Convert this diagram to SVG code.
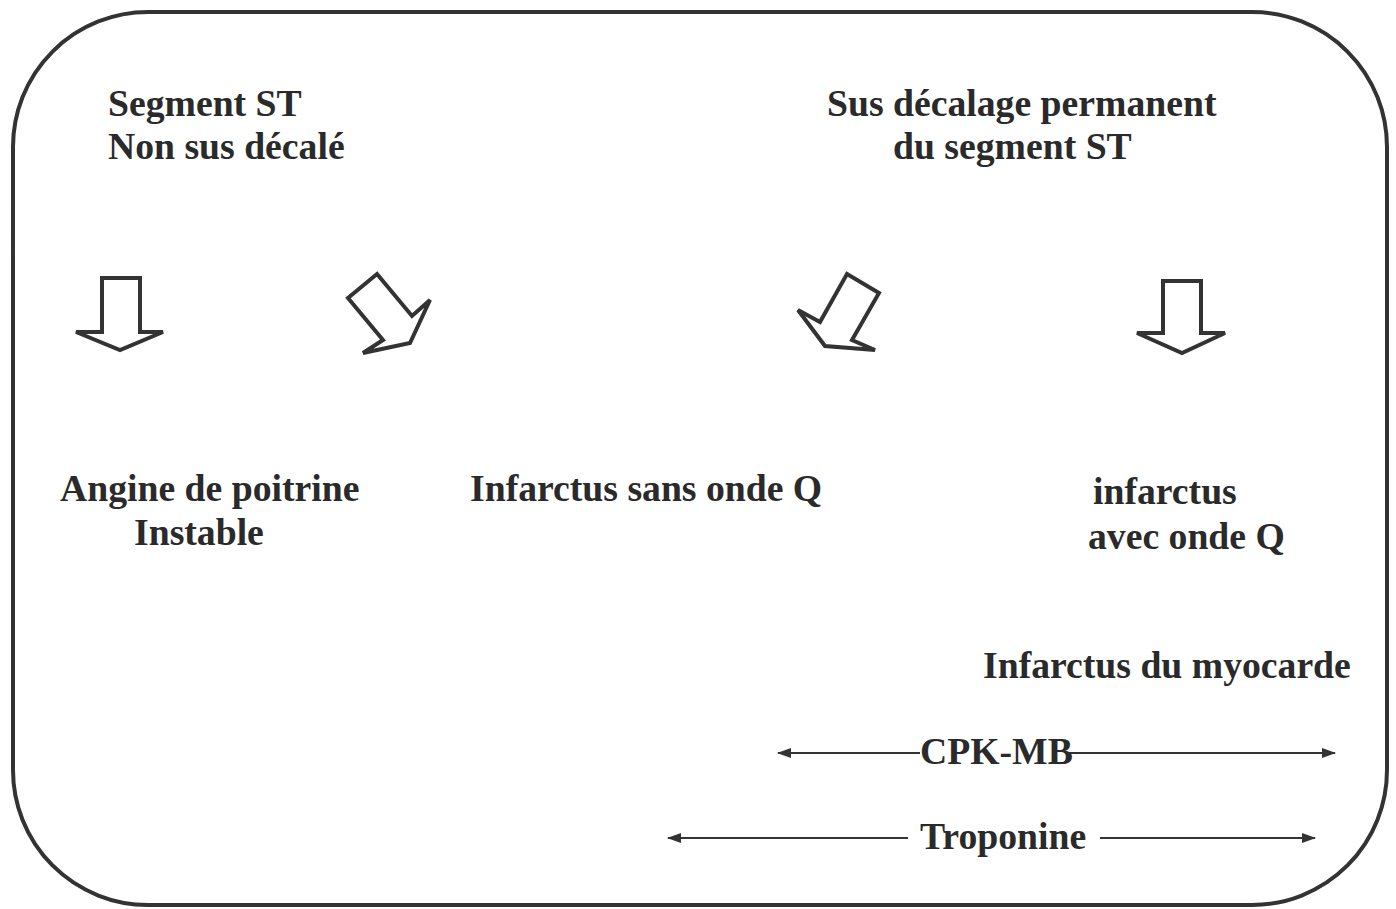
<svg xmlns="http://www.w3.org/2000/svg" width="1396" height="909" viewBox="0 0 1396 909">
<defs>
<style>
.t{font-family:"Liberation Serif","Times New Roman",serif;font-weight:bold;font-size:37.7px;fill:#2a2a2a}
.blk{fill:none;stroke:#333;stroke-width:4;stroke-linejoin:miter}
.ln{stroke:#333;stroke-width:2;fill:none}
</style>
<marker id="ah" viewBox="0 0 14 10" refX="13" refY="5" markerWidth="14" markerHeight="10" markerUnits="userSpaceOnUse" orient="auto-start-reverse">
<path d="M0,0 L14,5 L0,10 Z" fill="#333"/>
</marker>
</defs>
<rect width="1396" height="909" fill="#fff"/>
<rect id="frame" x="13" y="12" width="1374" height="893" rx="135" ry="135" fill="none" stroke="#333" stroke-width="4"/>

<g id="st-non">
<text class="t" x="108" y="116">Segment ST</text>
<text class="t" x="108" y="159">Non sus décalé</text>
</g>
<g id="st-sus">
<text class="t" x="827" y="116">Sus décalage permanent</text>
<text class="t" x="893" y="159">du segment ST</text>
</g>
<g id="angine">
<text class="t" x="60" y="501">Angine de poitrine</text>
<text class="t" x="134" y="545">Instable</text>
</g>
<g id="idm-sans-q">
<text class="t" x="470" y="501">Infarctus sans onde Q</text>
</g>
<g id="idm-avec-q">
<text class="t" x="1093" y="504">infarctus</text>
<text class="t" x="1088" y="549">avec onde Q</text>
</g>
<g id="idm">
<text class="t" x="983" y="678">Infarctus du myocarde</text>
</g>

<g id="connectors">
<polygon class="blk" points="102,278 140,278 140,332 163,332 120,350 76,332 102,332"/>
<polygon class="blk" points="377,274 412,316 430,300 410,343 363,353 383,340 348,298"/>
<polygon class="blk" points="847,274 879,293 852,340 875,350 825,346 798,310 820,322"/>
<polygon class="blk" points="1163,281 1201,281 1201,333 1225,333 1182,353 1137,333 1163,333"/>
<line class="ln" x1="778" y1="753" x2="920" y2="753" marker-start="url(#ah)"/>
<line class="ln" x1="1068" y1="753" x2="1335" y2="753" marker-end="url(#ah)"/>
<line class="ln" x1="668" y1="838" x2="908" y2="838" marker-start="url(#ah)"/>
<line class="ln" x1="1100" y1="838" x2="1315" y2="838" marker-end="url(#ah)"/>
</g>
<g id="cpk">
<text class="t" x="920" y="764">CPK-MB</text>
</g>
<g id="troponine">
<text class="t" x="920" y="849">Troponine</text>
</g>
</svg>
